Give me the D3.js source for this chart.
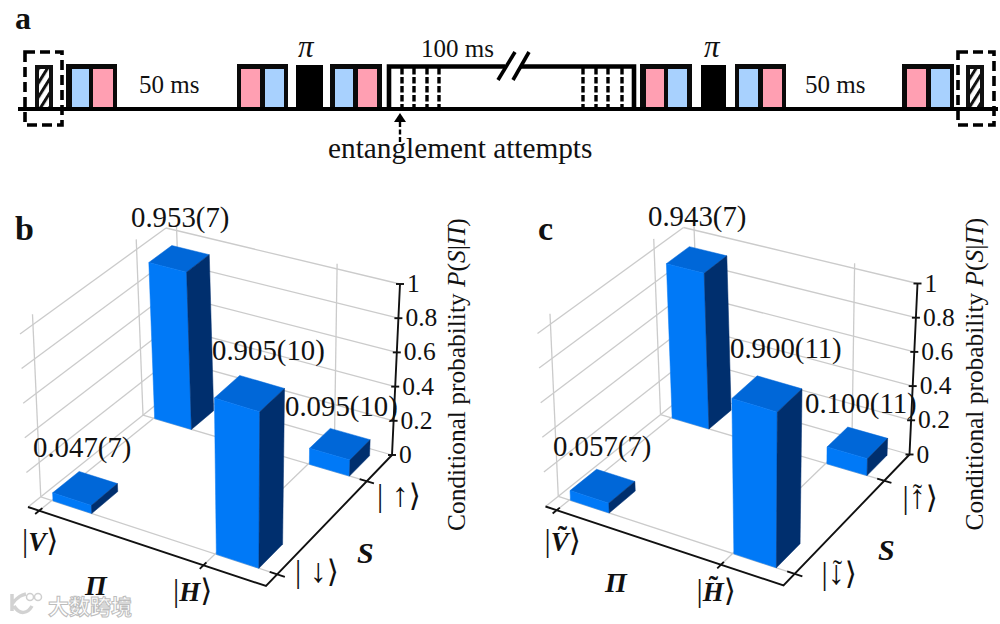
<!DOCTYPE html>
<html><head><meta charset="utf-8">
<script src="https://cdn.jsdelivr.net/npm/d3@7"></script>
<style>html,body{margin:0;padding:0;background:#fff}svg{display:block}
text{font-family:"Liberation Serif","DejaVu Serif",serif;fill:#111}</style></head>
<body><svg id="c" width="1000" height="624" viewBox="0 0 1000 624"></svg>
<script>
// ---------- data ----------
const basisPi = ["V","H"];
const basisS = ["down","up"];
const panelBValues = [0.047,0.953,0.905,0.095];   // (V,down) (V,up) (H,down) (H,up)
const panelCValues = [0.057,0.943,0.900,0.100];
const panelBLabels = ["0.047(7)","0.953(7)","0.905(10)","0.095(10)"];
const panelCLabels = ["0.057(7)","0.943(7)","0.900(11)","0.100(11)"];
const zTicks = [0,0.2,0.4,0.6,0.8,1];
const zTickLabels = ["0","0.2","0.4","0.6","0.8","1"];
const sequenceBlocks = [["blue","pink"],["pink","blue"],["blue","pink"],["pink","blue"],["blue","pink"],["pink","blue"]];

// ---------- panel a layout ----------
const svg = d3.select("#c");
const defs = svg.append("defs");
const hp = defs.append("pattern").attr("id","hatch").attr("patternUnits","userSpaceOnUse")
  .attr("width",7.5).attr("height",7.5).attr("patternTransform","rotate(-58)");
hp.append("rect").attr("width",7.5).attr("height",7.5).attr("fill","#fff");
hp.append("rect").attr("width",7.5).attr("height",3).attr("fill","#111");

const colour = {blue:"#a8d1fe",pink:"#ff9fb2"};
const a = svg.append("g");
const T = (s,x,y,size,extra={})=>{const t=a.append("text").attr("x",x).attr("y",y).attr("font-size",size).text(s);
  for(const k in extra)t.attr(k,extra[k]);return t;};
T("a",15,28.5,32,{"font-weight":"bold"});

const boxX = [[66,117,72,89,93,113],[237,288,241,260,265,284],[330,382,335,353,358,377],
              [640,692,646,664,668,687],[735,786,739,758,763,782],[902,954,907,926,931,950]];
const blockOrder = [0,1,2,3,4,5];
blockOrder.forEach(i=>{
  const b=boxX[i];
  a.append("rect").attr("x",b[0]).attr("y",64).attr("width",b[1]-b[0]).attr("height",45).attr("fill","#0a0a0a");
  a.append("rect").attr("x",b[2]).attr("y",69).attr("width",b[3]-b[2]).attr("height",38).attr("fill",colour[sequenceBlocks[i][0]]);
  a.append("rect").attr("x",b[4]).attr("y",69).attr("width",b[5]-b[4]).attr("height",38).attr("fill",colour[sequenceBlocks[i][1]]);
});
[[296,323],[701,726]].forEach(d=>a.append("rect").attr("x",d[0]).attr("y",65).attr("width",d[1]-d[0]).attr("height",44).attr("fill","#000"));
[[35,53],[966,984]].forEach(d=>{
  a.append("rect").attr("x",d[0]).attr("y",65).attr("width",d[1]-d[0]).attr("height",44).attr("fill","#111");
  a.append("rect").attr("x",d[0]+4).attr("y",69).attr("width",d[1]-d[0]-8).attr("height",38).attr("fill","url(#hatch)");
});
// long entanglement block
const blk=a.append("g").attr("fill","none").attr("stroke","#000");
blk.append("path").attr("d","M389,109V66.5H505M520,66.5H634V109").attr("stroke-width",4.6);
[402,414,427,439,583,596,608,622].forEach(x=>a.append("line").attr("x1",x).attr("x2",x).attr("y1",68).attr("y2",108)
   .attr("stroke","#000").attr("stroke-width",3.4).attr("stroke-dasharray","6.5 2.5"));
[[498,80,515,52],[513,80,529,52]].forEach(d=>a.append("line").attr("x1",d[0]).attr("y1",d[1]).attr("x2",d[2]).attr("y2",d[3]).attr("stroke","#000").attr("stroke-width",3.6));
// baseline
a.append("line").attr("x1",18).attr("x2",998).attr("y1",109).attr("y2",109).attr("stroke","#000").attr("stroke-width",3.8);
// dashed boxes
[[25,62],[958,994]].forEach(d=>a.append("rect").attr("x",d[0]).attr("y",52).attr("width",d[1]-d[0]).attr("height",73)
  .attr("fill","none").attr("stroke","#000").attr("stroke-width",3.6).attr("stroke-dasharray","10 5"));
T("50 ms",139,93,25);T("50 ms",805,93,25);T("100 ms",421,57,25);
T("π",298,57,31,{"font-style":"italic"});T("π",704,57,31,{"font-style":"italic"});
T("entanglement attempts",328,158,29.3);
a.append("line").attr("x1",400).attr("x2",400).attr("y1",142).attr("y2",120).attr("stroke","#000").attr("stroke-width",2.4).attr("stroke-dasharray","5 2.5");
a.append("path").attr("d",d3.line()([[394,122],[400,113],[406,122]])+"Z").attr("fill","#000");

// ---------- projection ----------
function homography(p){ // unit square (0,0)(1,0)(1,1)(0,1) -> four points
  const [p0,p1,p2,p3]=p;
  const sx=p0[0]-p1[0]+p2[0]-p3[0], sy=p0[1]-p1[1]+p2[1]-p3[1];
  const dx1=p1[0]-p2[0],dx2=p3[0]-p2[0],dy1=p1[1]-p2[1],dy2=p3[1]-p2[1];
  const det=dx1*dy2-dx2*dy1;
  const g=(sx*dy2-dx2*sy)/det,h=(dx1*sy-sx*dy1)/det;
  const A=p1[0]-p0[0]+g*p1[0],B=p3[0]-p0[0]+h*p3[0],C=p0[0];
  const D=p1[1]-p0[1]+g*p1[1],E=p3[1]-p0[1]+h*p3[1],F=p0[1];
  return (u,v)=>{const w=g*u+h*v+1;return [(A*u+B*v+C)/w,(D*u+E*v+F)/w];};
}
const floorCorners=[[28,507],[266,586],[392,455],[172,392]];
const topCorners=[[20,334],[268,410],[400,284],[166,228]];
const floorH=homography(floorCorners), topH=homography(topCorners);
const zScale=d3.scaleLinear().domain([0,1]).range([0,1]);
const barZ=d3.scaleLinear().domain([0,1]).range([0,0.985]);
const piScale=d3.scalePoint().domain(basisPi).range([0.05,0.75]);
const sScale=d3.scalePoint().domain(basisS).range([0.08,0.78]);
const barSize=0.172;
const project=(u,v,z)=>{const f=floorH(u,v),t=topH(u,v),k=zScale(z);return [f[0]+(t[0]-f[0])*k,f[1]+(t[1]-f[1])*k];};
const line=d3.line();

function drawPanel(cfg){
  const g=svg.append("g").attr("transform",`translate(${cfg.dx},${cfg.dy})`);
  const grey=g.append("g").attr("stroke","#cbcbcb").attr("stroke-width",1.3).attr("fill","none");
  const seg=(s,a0,b0)=>s.append("path").attr("d",line([a0,b0]));
  // wall gridlines
  zTicks.forEach(z=>{seg(grey,project(0,0,z),project(0,1,z));seg(grey,project(0,1,z),project(1,1,z));});
  // verticals
  basisS.forEach(s=>seg(grey,project(0,sScale(s),-0.0),project(0,sScale(s),1.06)));
  basisPi.forEach(p=>seg(grey,project(piScale(p),1,0),project(piScale(p),1,1.03)));
  // floor
  basisS.forEach(s=>seg(grey,project(0,sScale(s),0),project(1,sScale(s),0)));
  basisPi.forEach(p=>seg(grey,project(piScale(p),0,0),project(piScale(p),1,0)));
  // black axes
  const ax=g.append("g").attr("stroke","#111").attr("stroke-width",1.9).attr("fill","none");
  ax.append("path").attr("d",line([project(0,0,0),project(1,0,0),project(1,1,0),project(1,1,1)]));
  basisPi.forEach(p=>seg(ax,project(piScale(p),-0.025,0),project(piScale(p),0.02,0)));
  basisS.forEach(s=>seg(ax,project(1.03,sScale(s),0),project(0.97,sScale(s),0)));
  zTicks.forEach(z=>{const q=project(1,1,z);seg(ax,[q[0]-4,q[1]],[q[0]+4,q[1]]);});
  // tick labels
  zTicks.forEach((z,i)=>{const q=project(1,1,z);
    g.append("text").attr("x",q[0]+7).attr("y",q[1]+8).attr("font-size",25.5).text(zTickLabels[i]);});
  // bars back to front
  const bars=[{p:0,s:1},{p:1,s:1},{p:0,s:0},{p:1,s:0}].map(d=>({...d,val:cfg.values[d.p*2+d.s]}));
  bars.forEach(b=>{
    const u0=piScale(basisPi[b.p])+0.005,u1=u0+barSize,v0=sScale(basisS[b.s]),v1=v0+barSize;
    const h=barZ(b.val);
    const poly=(pts,fill)=>g.append("path").attr("d",line(pts)+"Z").attr("fill",fill).attr("stroke",fill).attr("stroke-width",0.5);
    poly([project(u0,v0,h),project(u1,v0,h),project(u1,v1,h),project(u0,v1,h)],"#0067d8");
    poly([project(u0,v0,0),project(u1,v0,0),project(u1,v0,h),project(u0,v0,h)],"#0079f7");
    poly([project(u1,v0,0),project(u1,v1,0),project(u1,v1,h),project(u1,v0,h)],"#002f6e");
  });
  // value labels
  cfg.labels.forEach((s,i)=>g.append("text").attr("x",cfg.labelAt[i][0]).attr("y",cfg.labelAt[i][1]).attr("font-size",28.8).text(s));
  // panel letter
  svg.append("text").attr("x",cfg.letter[1]).attr("y",240).attr("font-size",34).attr("font-weight","bold").text(cfg.letter[0]);
  // axis title
  const t=g.append("text").attr("transform","translate(465,531) rotate(-90)").attr("font-size",25.4);
  t.append("tspan").text("Conditional probability ");
  t.append("tspan").attr("font-style","italic").text("P");
  t.append("tspan").text("(");
  t.append("tspan").attr("font-style","italic").text("S");
  t.append("tspan").text("|");
  t.append("tspan").attr("font-style","italic").text("Π");
  t.append("tspan").text(")");
  // axis names
  g.append("text").attr("x",cfg.piName[0]).attr("y",cfg.piName[1]).attr("font-size",28).attr("font-weight","bold").attr("font-style","italic").text("Π");
  g.append("text").attr("x",cfg.sName[0]).attr("y",cfg.sName[1]).attr("font-size",30).attr("font-weight","bold").attr("font-style","italic").text("S");
  // kets
  cfg.kets.forEach(k=>{
    const t=g.append("text").attr("x",k.x).attr("y",k.y).attr("font-size",31);
    t.append("tspan").text("|");
    const m=t.append("tspan").attr("font-size",k.bold?27:34).text(k.s);
    if(k.bold) m.attr("font-weight","bold").attr("font-style","italic");
    t.append("tspan").attr("font-family","DejaVu Sans").attr("font-size",31).text("⟩");
    if(k.tilde) g.append("text").attr("x",k.tilde).attr("y",k.y-k.tildeUp).attr("font-size",28)
      .attr("text-anchor","middle").attr("font-weight",k.bold?"bold":"normal").text("˜");
  });
}

drawPanel({dx:0,dy:0,values:panelBValues,labels:panelBLabels,letter:["b",15],
  labelAt:[[33,457],[131,227],[212,360],[285,416]],piName:[85,595],sName:[357,563],
  kets:[{x:22,y:551,s:"V",bold:1},{x:173,y:601,s:"H",bold:1},{x:295,y:582,s:" ↓"},{x:377,y:506,s:" ↑"}]});
drawPanel({dx:517.5,dy:-0.5,values:panelCValues,labels:panelCLabels,letter:["c",538],
  labelAt:[[35.5,456.5],[130.5,226.5],[212.5,358.5],[287.5,413.5]],piName:[87.5,592.5],sName:[360.5,560.5],
  kets:[{x:27,y:551,s:"V",bold:1,tilde:45,tildeUp:6},{x:179,y:601,s:"H",bold:1,tilde:196,tildeUp:6},
        {x:304,y:584,s:"↓",tilde:320,tildeUp:5},{x:385,y:508,s:"↑",tilde:400,tildeUp:5}]});

// watermark
const wm=svg.append("g");
wm.append("path").attr("d","M12,594V611 M12,604C18,596 22,595 26,594 M14,606C20,616 28,613 32,606").attr("fill","none").attr("stroke","#d2d2d2").attr("stroke-width",3.5);
wm.append("circle").attr("cx",30).attr("cy",597).attr("r",3.5).attr("fill","#fff").attr("stroke","#cfcfcf").attr("stroke-width",1.5);
wm.append("circle").attr("cx",38).attr("cy",597).attr("r",3.5).attr("fill","#fff").attr("stroke","#cfcfcf").attr("stroke-width",1.5);
wm.append("text").attr("x",48).attr("y",614).attr("font-size",21).attr("font-weight","bold")
  .style("font-family","'Noto Sans CJK SC'").style("fill","#fff").attr("stroke","#bdbdbd").attr("stroke-width",1).text("大数跨境");
</script></body></html>
